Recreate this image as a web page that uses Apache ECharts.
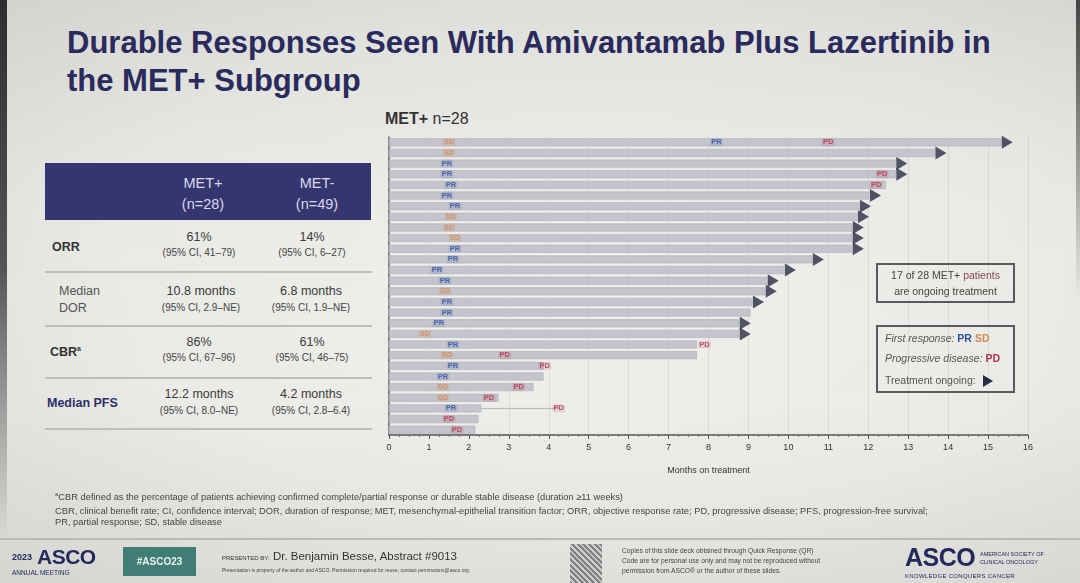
<!DOCTYPE html>
<html><head><meta charset="utf-8">
<script src="https://cdn.jsdelivr.net/npm/echarts@6/dist/echarts.min.js"></script>
<style>
html,body{margin:0;padding:0;width:1080px;height:583px;overflow:hidden;}
body{position:relative;font-family:"Liberation Sans",Arial,sans-serif;
 background:linear-gradient(180deg,#dfdfdb 0%,#e9e9e5 35%,#ebebe7 70%,#e4e4e0 100%);}
.a{position:absolute;white-space:nowrap;}
#vig{position:absolute;left:0;top:0;width:1080px;height:583px;
 background:radial-gradient(ellipse at 55% 45%,rgba(255,255,255,0.25) 0%,rgba(255,255,255,0) 55%,rgba(0,0,0,0.07) 100%);}
#chart{position:absolute;left:0;top:0;width:1080px;height:583px;}
.title{left:67px;font-weight:bold;font-size:31px;color:#2b2a5c;}
.c{text-align:center;width:150px;}
.v{font-size:12.5px;color:#3a3a3a;}
.ci{font-size:10px;color:#444;}
.sep{position:absolute;left:45px;width:327px;height:1.5px;background:#bdbdbd;}
.box{position:absolute;border:2px solid #5a5a5e;box-sizing:border-box;}
.lg{font-size:10.5px;color:#555;}
.tri{display:inline-block;width:0;height:0;border-top:6px solid transparent;border-bottom:6px solid transparent;border-left:10px solid #2a2b44;vertical-align:middle;margin-left:4px;}
.fn{font-size:9.3px;color:#444;left:55px;}
</style></head><body>
<div id="vig"></div>
<div class="a" style="left:0;top:0;width:7px;height:540px;background:linear-gradient(180deg,#2e2e2e,#555 50%,rgba(120,120,120,0));"></div>
<div class="a" style="right:0;top:0;width:4px;height:300px;background:linear-gradient(180deg,#444,rgba(120,120,120,0));"></div>

<div class="a title" style="top:25px;">Durable Responses Seen With Amivantamab Plus Lazertinib in</div>
<div class="a title" style="top:63px;">the MET+ Subgroup</div>

<!-- table -->
<div class="a" style="left:45px;top:163px;width:326px;height:57px;background:#35356f;"></div>
<div class="a c" style="left:128px;top:173px;font-size:14.5px;color:#d9d9ee;line-height:21px;">MET+<br>(n=28)</div>
<div class="a c" style="left:242px;top:173px;font-size:14.5px;color:#d9d9ee;line-height:21px;">MET-<br>(n=49)</div>

<div class="a" style="left:52px;top:240px;font-size:12.5px;font-weight:bold;color:#333;">ORR</div>
<div class="a c v" style="left:124px;top:230px;">61%</div>
<div class="a c ci" style="left:124px;top:247px;">(95% CI, 41–79)</div>
<div class="a c v" style="left:237px;top:230px;">14%</div>
<div class="a c ci" style="left:237px;top:247px;">(95% CI, 6–27)</div>
<div class="sep" style="top:271px;"></div>

<div class="a" style="left:59px;top:283px;font-size:12.5px;color:#555;line-height:17px;">Median<br>DOR</div>
<div class="a c v" style="left:126px;top:284px;">10.8 months</div>
<div class="a c ci" style="left:126px;top:302px;">(95% CI, 2.9–NE)</div>
<div class="a c v" style="left:236px;top:284px;">6.8 months</div>
<div class="a c ci" style="left:236px;top:302px;">(95% CI, 1.9–NE)</div>
<div class="sep" style="top:325px;"></div>

<div class="a" style="left:50px;top:345px;font-size:12.5px;font-weight:bold;color:#333;">CBR<sup style="font-size:7px;">a</sup></div>
<div class="a c v" style="left:124px;top:335px;">86%</div>
<div class="a c ci" style="left:124px;top:352px;">(95% CI, 67–96)</div>
<div class="a c v" style="left:237px;top:335px;">61%</div>
<div class="a c ci" style="left:237px;top:352px;">(95% CI, 46–75)</div>
<div class="sep" style="top:377px;"></div>

<div class="a" style="left:47px;top:396px;font-size:12.5px;font-weight:bold;color:#2e2f6a;">Median PFS</div>
<div class="a c v" style="left:124px;top:387px;">12.2 months</div>
<div class="a c ci" style="left:124px;top:405px;">(95% CI, 8.0–NE)</div>
<div class="a c v" style="left:236px;top:387px;">4.2 months</div>
<div class="a c ci" style="left:236px;top:405px;">(95% CI, 2.8–6.4)</div>
<div class="sep" style="top:428px;"></div>

<!-- chart sub-title -->
<div class="a" style="left:385px;top:110px;font-size:16px;color:#333;"><span style="font-weight:bold;">MET+</span> n=28</div>

<div id="chart"></div>

<!-- legend boxes -->
<div class="box" style="left:876px;top:263px;width:139px;height:40px;"></div>
<div class="a lg" style="left:876px;top:267px;width:139px;text-align:center;line-height:16px;color:#444;">17 of 28 MET+ <span style="color:#8a4658;">patients</span><br>are ongoing treatment</div>
<div class="box" style="left:876px;top:325px;width:139px;height:68px;"></div>
<div class="a lg" style="left:885px;top:332px;font-style:italic;">First response: <b style="color:#2f4e9e;font-style:normal;">PR</b> <b style="color:#d08a58;font-style:normal;">SD</b></div>
<div class="a lg" style="left:885px;top:352px;font-style:italic;">Progressive disease: <b style="color:#b3304b;font-style:normal;">PD</b></div>
<div class="a lg" style="left:885px;top:374px;">Treatment ongoing: <span class="tri"></span></div>

<!-- footnotes -->
<div class="a fn" style="top:491px;"><sup style="font-size:6px;">a</sup>CBR defined as the percentage of patients achieving confirmed complete/partial response or durable stable disease (duration ≥11 weeks)</div>
<div class="a fn" style="top:506px;">CBR, clinical benefit rate; CI, confidence interval; DOR, duration of response; MET, mesenchymal-epithelial transition factor; ORR, objective response rate; PD, progressive disease; PFS, progression-free survival;</div>
<div class="a fn" style="top:517px;">PR, partial response; SD, stable disease</div>

<!-- footer -->
<div class="a" style="left:0;top:538px;width:1080px;height:1.5px;background:#b9b9b6;"></div>
<div class="a" style="left:12px;top:552px;font-size:9px;font-weight:bold;color:#23295a;">2023</div>
<div class="a" style="left:37px;top:545px;font-size:21px;font-weight:bold;color:#23295a;letter-spacing:-0.5px;">ASCO</div>
<div class="a" style="left:12px;top:569px;font-size:6.5px;color:#23295a;">ANNUAL MEETING</div>
<div class="a" style="left:123px;top:547px;width:73px;height:29px;background:#3f7d76;color:#e8f2f0;font-size:10px;font-weight:bold;text-align:center;line-height:29px;">#ASCO23</div>
<div class="a" style="left:222px;top:550px;font-size:11.5px;color:#333;"><span style="font-size:6px;">PRESENTED BY:</span> Dr. Benjamin Besse, Abstract #9013</div>
<div class="a" style="left:222px;top:567px;font-size:5px;color:#444;">Presentation is property of the author and ASCO. Permission required for reuse; contact permissions@asco.org.</div>
<div class="a" style="left:570px;top:544px;width:32px;height:39px;background:repeating-linear-gradient(45deg,#6a6a70 0 2px,#c8c8c8 2px 4px),#888;opacity:0.8;"></div>
<div class="a" style="left:622px;top:546px;font-size:6.7px;color:#444;line-height:10px;">Copies of this slide deck obtained through Quick Response (QR)<br>Code are for personal use only and may not be reproduced without<br>permission from ASCO® or the author of these slides.</div>
<div class="a" style="left:905px;top:543px;font-size:25px;font-weight:bold;color:#23295a;letter-spacing:-0.5px;">ASCO</div>
<div class="a" style="left:980px;top:550px;font-size:5.5px;color:#23295a;line-height:8px;">AMERICAN SOCIETY OF<br>CLINICAL ONCOLOGY</div>
<div class="a" style="left:905px;top:573px;font-size:6px;color:#23295a;letter-spacing:0.3px;">KNOWLEDGE CONQUERS CANCER</div>

<script>
// ---- data (months on treatment) ----
const patients = ['P1','P2','P3','P4','P5','P6','P7','P8','P9','P10','P11','P12','P13','P14',
                  'P15','P16','P17','P18','P19','P20','P21','P22','P23','P24','P25','P26','P27','P28'];
const durationMonths = [15.33,13.67,12.69,12.69,12.44,12.03,11.78,11.73,11.6,11.6,11.6,10.6,9.9,9.47,
                        9.42,9.1,9.05,8.77,8.77,7.71,7.71,3.87,3.87,3.62,2.74,2.31,2.24,2.16];
const firstResponseType = ['SD','SD','PR','PR','PR','PR','PR','SD','SD','SD','PR','PR','PR','PR',
                           'SD','PR','PR','PR','SD','PR','SD','PR','PR','SD','SD','PR','PD','PD'];
const firstResponseMonth = [1.5,1.5,1.45,1.45,1.55,1.45,1.65,1.55,1.5,1.65,1.65,1.6,1.2,1.4,
                            1.4,1.45,1.45,1.25,0.9,1.6,1.45,1.6,1.35,1.35,1.35,1.55,1.5,1.7];
const laterPRRows = [0];
const laterPRMonths = [8.2];
const pdRows = [0,3,4,19,20,21,23,24,25];
const pdMonths = [11.0,12.35,12.2,7.9,2.9,3.9,3.25,2.5,4.25];
const ongoingRows = [0,1,2,3,5,6,7,8,9,10,11,12,13,14,15,17,18];
const followUpRow = 25;
const axisMin = 0, axisMax = 16, axisStep = 1;

// ---- build marker lists ----
const prPts = [], sdPts = [], pdPts = [];
firstResponseType.forEach((t, i) => {
  const p = [firstResponseMonth[i], patients[i]];
  if (t === 'PR') prPts.push(p); else if (t === 'SD') sdPts.push(p); else pdPts.push(p);
});
laterPRRows.forEach((r, k) => prPts.push([laterPRMonths[k], patients[r]]));
pdRows.forEach((r, k) => pdPts.push([pdMonths[k], patients[r]]));
const ongoingPts = ongoingRows.map(r => [durationMonths[r], patients[r]]);
const followUpPts = [[durationMonths[followUpRow], patients[followUpRow]],
                     [pdMonths[pdRows.indexOf(followUpRow)], patients[followUpRow]]];

function markerSeries(name, color, bg, pts) {
  return {
    type: 'scatter', name: name, data: pts, symbol: 'roundRect', symbolSize: [13, 8],
    itemStyle: { color: bg }, z: 6, silent: true,
    label: { show: true, position: 'inside', formatter: name, color: color,
             fontSize: 7.5, fontWeight: 'bold', fontFamily: 'Liberation Sans' }
  };
}

const chart = echarts.init(document.getElementById('chart'), null, { renderer: 'canvas' });
chart.setOption({
  backgroundColor: 'transparent',
  animation: false,
  grid: { left: 389, right: 52, top: 137, bottom: 148 },
  xAxis: {
    type: 'value', min: axisMin, max: axisMax, interval: axisStep,
    name: 'Months on treatment', nameLocation: 'middle', nameGap: 31,
    nameTextStyle: { fontSize: 9, color: '#333', fontFamily: 'Liberation Sans' },
    axisLine: { show: true, lineStyle: { color: '#555', width: 1.5 } },
    axisTick: { show: true, length: 4, lineStyle: { color: '#555' } },
    minorTick: { show: true, splitNumber: 4, length: 2, lineStyle: { color: '#777' } },
    splitLine: { show: true, lineStyle: { color: 'rgba(0,0,0,0.07)', width: 1 } },
    axisLabel: { fontSize: 9, color: '#333', margin: 8, fontFamily: 'Liberation Sans' }
  },
  yAxis: {
    type: 'category', data: patients, inverse: true,
    axisLine: { show: true, lineStyle: { color: '#666', width: 1.5 } },
    axisTick: { show: false }, axisLabel: { show: false }, splitLine: { show: false }
  },
  series: [
    { type: 'bar', data: durationMonths, barWidth: 8, silent: true, z: 2,
      itemStyle: { color: '#c4c5cc', borderColor: '#aeafb8', borderWidth: 0.6 } },
    { type: 'line', data: followUpPts, symbol: 'none', silent: true, z: 3,
      lineStyle: { color: '#b5b5b5', width: 1 } },
    markerSeries('PR', '#2f4e9e', 'rgba(70,100,180,0.18)', prPts),
    markerSeries('SD', '#d08a58', 'rgba(215,140,90,0.22)', sdPts),
    markerSeries('PD', '#b3304b', 'rgba(180,50,75,0.18)', pdPts),
    { type: 'scatter', data: ongoingPts, symbol: 'path://M0,0L10,6L0,12Z', symbolSize: [11, 13],
      symbolOffset: [6, 0], itemStyle: { color: '#2a2b44' }, z: 7, silent: true }
  ]
});
</script>
</body></html>
